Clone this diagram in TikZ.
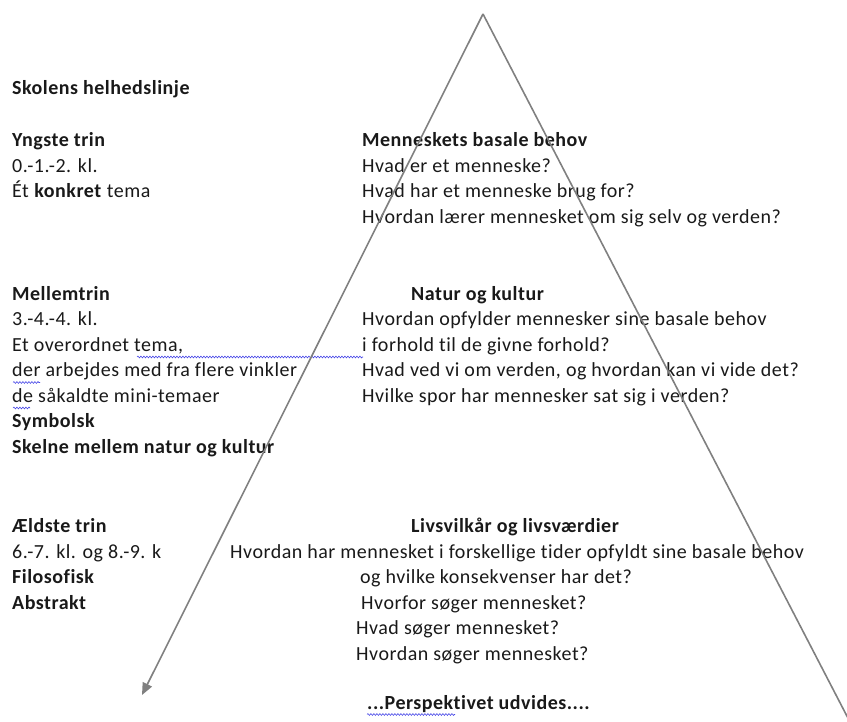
\documentclass[tikz,border=0pt]{standalone}
\usepackage{fontspec}
\setmainfont{Carlito}[LetterSpace=2.5,Ligatures=NoCommon]
\usetikzlibrary{arrows.meta,decorations.pathmorphing,calc}
\definecolor{linegray}{RGB}{128,128,128}
\definecolor{txt}{RGB}{25,25,25}
\definecolor{wavec}{RGB}{70,70,230}
\begin{document}
\begin{tikzpicture}[x=1pt,y=-1pt,
  txtline/.style={anchor=base west, inner sep=0pt, text=txt, font=\fontsize{20}{24}\selectfont},
  bf/.style={txtline, font=\fontsize{20}{24}\selectfont\bfseries},
  side/.style={draw=linegray, line width=1.6pt},
  wave/.style={draw=wavec, line width=0.6pt, decorate, decoration={snake, amplitude=0.9pt, segment length=3pt}}]
\useasboundingbox (0,0) rectangle (847,722);

% left column
\node[bf] (title) at (12,95) {Skolens helhedslinje};
\node[bf] (l1) at (12,147) {Yngste trin};
\node[txtline] (l2) at (12,172.5) {0.-1.-2. kl.};
\node[txtline] (l3) at (12,198) {Ét \textbf{konkret} tema};
\node[bf] (m1) at (12,300.5) {Mellemtrin};
\node[txtline] (m2) at (12,326) {3.-4.-4. kl.};
\node[txtline] (m3) at (12,351.5) {Et overordnet tema,};
\node[txtline] (m4) at (12,377) {der arbejdes med fra flere vinkler};
\node[txtline] (m5) at (12,402.5) {de såkaldte mini-temaer};
\node[bf] (m6) at (12,428) {Symbolsk};
\node[bf] (m7) at (12,453.5) {Skelne mellem natur og kultur};
\node[bf] (o1) at (12,532.5) {Ældste trin};
\node[txtline] (o2) at (12,558) {6.-7. kl. og 8.-9. k};
\node[bf] (o3) at (12,583.5) {Filosofisk};
\node[bf] (o4) at (12,609) {Abstrakt};

% right column
\node[bf] (r1) at (362,147) {Menneskets basale behov};
\node[txtline] (r2) at (362,172.5) {Hvad er et menneske?};
\node[txtline] (r3) at (362,198) {Hvad har et menneske brug for?};
\node[txtline] (r4) at (362,223.5) {Hvordan lærer mennesket om sig selv og verden?};
\node[bf] (s1) at (411,300.5) {Natur og kultur};
\node[txtline] (s2) at (362,326) {Hvordan opfylder mennesker sine basale behov};
\node[txtline] (s3) at (362,351.5) {i forhold til de givne forhold?};
\node[txtline] (s4) at (362,377) {Hvad ved vi om verden, og hvordan kan vi vide det?};
\node[txtline] (s5) at (362,402.5) {Hvilke spor har mennesker sat sig i verden?};
\node[bf] (t1) at (411,532.5) {Livsvilkår og livsværdier};
\node[txtline] (t2) at (230,558) {Hvordan har mennesket i forskellige tider opfyldt sine basale behov};
\node[txtline] (t3) at (360,583.5) {og hvilke konsekvenser har det?};
\node[txtline] (t4) at (361,609) {Hvorfor søger mennesket?};
\node[txtline] (t5) at (356,634.5) {Hvad søger mennesket?};
\node[txtline] (t6) at (356,660) {Hvordan søger mennesket?};
\node[bf] (persp) at (367,709) {...Perspektivet udvides....};

% wavy underlines
\draw[wave] ($(m3.base west)+(125,5.5)$) -- ($(m3.base west)+(351,5.5)$);
\draw[wave] ($(m4.base west)+(1,5.5)$) -- ($(m4.base west)+(28,5.5)$);
\draw[wave] ($(m5.base west)+(1,5.5)$) -- ($(m5.base west)+(18,5.5)$);
\draw[wave] ($(persp.base west)+(0,5.5)$) -- ($(persp.base west)+(88,5.5)$);

% triangle sides
\coordinate (apex) at (483,14);
\coordinate (lefttip) at (142,695);
\coordinate (rightend) at (850,722);
\draw[side, -{Triangle[length=12pt,width=10pt]}] (apex) -- (lefttip);
\draw[side] (apex) -- (rightend);
\end{tikzpicture}
\end{document}
